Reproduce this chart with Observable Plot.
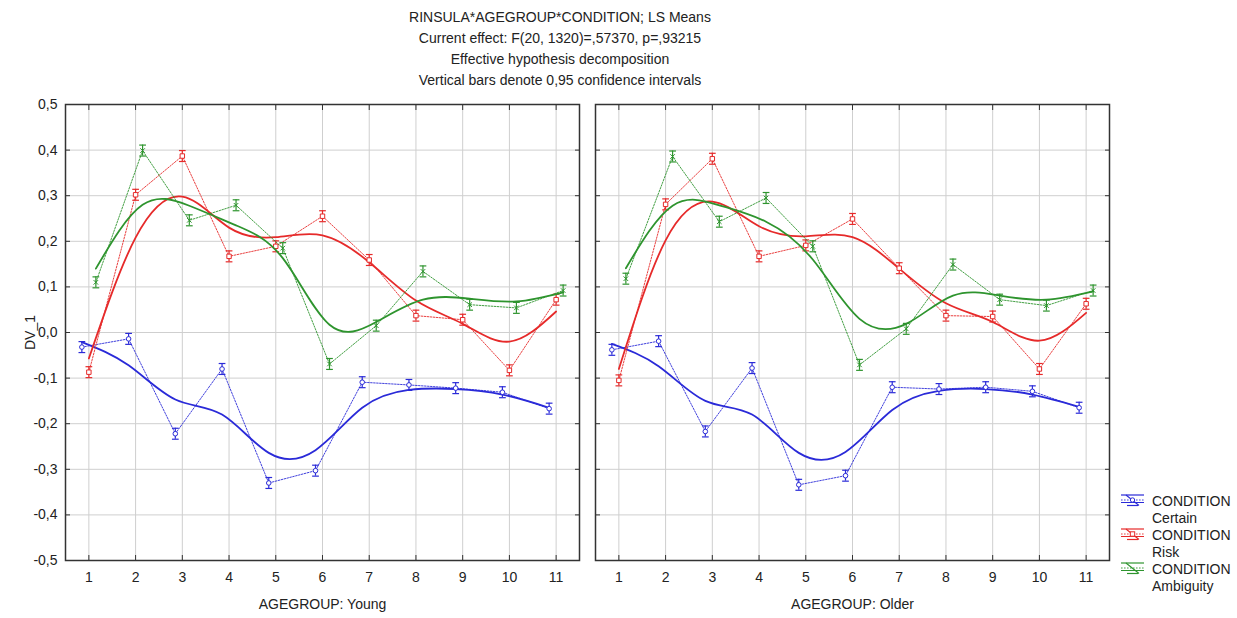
<!DOCTYPE html>
<html><head><meta charset="utf-8">
<script src="https://cdn.jsdelivr.net/npm/d3@7"></script>
<script src="https://cdn.jsdelivr.net/npm/@observablehq/plot@0.6"></script>
<style>
body{margin:0;background:#fff;font-family:"Liberation Sans",Arial,sans-serif;color:#222}
#wrap{position:relative;width:1237px;height:618px;overflow:hidden;background:#fff}
#title{position:absolute;left:0;top:7px;width:1120px;text-align:center;font-size:14px;line-height:21px}
#chart{position:absolute;left:0;top:95px}
#legend{position:absolute;left:1120px;top:493px;font-size:14px;line-height:17.1px;white-space:nowrap}
.entry{position:relative;padding-left:32px}
.entry svg{position:absolute;left:1px;top:0px}
</style></head>
<body>
<div id="wrap">
  <div id="title"></div>
  <div id="chart"></div>
  <div id="legend"></div>
</div>
<script>
// ---------- data ----------
const ageGroups = [1, 2, 3, 4, 5, 6, 7, 8, 9, 10, 11];
const panels = ["Young", "Older"];
const conditions = ["Certain", "Risk", "Ambiguity"];
const conditionColors = ["#2a2ad8", "#e62a2a", "#2e942e"];
const yTicks = [-0.5, -0.4, -0.3, -0.2, -0.1, 0, 0.1, 0.2, 0.3, 0.4, 0.5];
const yGridTicks = [-0.4, -0.3, -0.2, -0.1, 0, 0.1, 0.2, 0.3, 0.4];
const titleLines = [
  "RINSULA*AGEGROUP*CONDITION; LS Means",
  "Current effect: F(20, 1320)=,57370, p=,93215",
  "Effective hypothesis decomposition",
  "Vertical bars denote 0,95 confidence intervals"
];
const xLabelPrefix = "AGEGROUP: ";
const yLabel = "DV_1";
const legendHeader = "CONDITION";

// LS means
const youngCertain   = [-0.032, -0.014, -0.222, -0.080, -0.330, -0.303, -0.109, -0.115, -0.122, -0.131, -0.167];
const youngRisk      = [-0.087,  0.302,  0.387,  0.167,  0.189,  0.255,  0.159,  0.037,  0.028, -0.083,  0.072];
const youngAmbiguity = [ 0.110,  0.399,  0.246,  0.279,  0.185, -0.069,  0.015,  0.134,  0.061,  0.054,  0.092];
const olderCertain   = [-0.038, -0.019, -0.217, -0.078, -0.334, -0.314, -0.120, -0.124, -0.120, -0.129, -0.165];
const olderRisk      = [-0.105,  0.281,  0.381,  0.167,  0.191,  0.249,  0.141,  0.037,  0.035, -0.080,  0.063];
const olderAmbiguity = [ 0.118,  0.386,  0.243,  0.295,  0.189, -0.071,  0.008,  0.149,  0.072,  0.059,  0.092];

// smoothed (spline) fit values read at each age group
const youngCertainFit   = [-0.021, -0.072, -0.147, -0.180, -0.264, -0.258, -0.165, -0.126, -0.124, -0.136, -0.165];
const youngRiskFit      = [-0.057,  0.208,  0.298,  0.230,  0.209,  0.213,  0.154,  0.070,  0.019, -0.020,  0.046];
const youngAmbiguityFit = [ 0.140,  0.280,  0.278,  0.235,  0.163,  0.017,  0.023,  0.072,  0.074,  0.068,  0.088];
const olderCertainFit   = [-0.025, -0.074, -0.150, -0.180, -0.264, -0.262, -0.170, -0.128, -0.124, -0.136, -0.163];
const olderRiskFit      = [-0.080,  0.202,  0.287,  0.233,  0.211,  0.209,  0.140,  0.064,  0.023, -0.018,  0.043];
const olderAmbiguityFit = [ 0.141,  0.278,  0.279,  0.243,  0.160,  0.030,  0.019,  0.081,  0.081,  0.072,  0.090];

// half-width of the 0.95 confidence interval
const ciHalfWidth = 0.012;

// ---------- build table ----------
const seriesMap = {
  Young: {Certain: [youngCertain, youngCertainFit], Risk: [youngRisk, youngRiskFit], Ambiguity: [youngAmbiguity, youngAmbiguityFit]},
  Older: {Certain: [olderCertain, olderCertainFit], Risk: [olderRisk, olderRiskFit], Ambiguity: [olderAmbiguity, olderAmbiguityFit]}
};
const rows = [];
for (const panel of panels) for (const condition of conditions) {
  const [m, f] = seriesMap[panel][condition];
  ageGroups.forEach((age, i) => rows.push({panel, condition, age, mean: m[i], fit: f[i], lo: m[i] - ciHalfWidth, hi: m[i] + ciHalfWidth}));
}

// ---------- styles ----------
const condStyle = {
  Certain:   {dx: -7, symbol: "circle", r: 2.3},
  Risk:      {dx: 0,  symbol: "square", r: 2.5},
  Ambiguity: {dx: 7,  symbol: "times",  r: 2.2}
};
const capSymbol = {draw(ctx, size) { const w = Math.sqrt(size); ctx.moveTo(-w, 0); ctx.lineTo(w, 0); }};
const fmt = d => d.toFixed(1).replace(".", ",");

const seriesMarks = conditions.flatMap((c, k) => {
  const d = rows.filter(r => r.condition === c);
  const color = conditionColors[k];
  const s = condStyle[c];
  return [
    Plot.line(d, {x: "age", y: "fit", fx: "panel", stroke: color, strokeWidth: 1.8, curve: "natural", dx: s.dx}),
    Plot.line(d, {x: "age", y: "mean", fx: "panel", stroke: color, strokeWidth: 0.9, strokeDasharray: "1.6,1.4", dx: s.dx}),
    Plot.ruleX(d, {x: "age", y1: "lo", y2: "hi", fx: "panel", stroke: color, strokeWidth: 1.2, dx: s.dx}),
    Plot.dot(d, {x: "age", y: "lo", fx: "panel", symbol: capSymbol, r: 1.9, fill: "none", stroke: color, strokeWidth: 1.2, dx: s.dx}),
    Plot.dot(d, {x: "age", y: "hi", fx: "panel", symbol: capSymbol, r: 1.9, fill: "none", stroke: color, strokeWidth: 1.2, dx: s.dx}),
    Plot.dot(d, {x: "age", y: "mean", fx: "panel", symbol: s.symbol, r: s.r, fill: c === "Ambiguity" ? "none" : "white", stroke: color, strokeWidth: 1, dx: s.dx})
  ];
});

const chart = Plot.plot({
  width: 1237,
  height: 523,
  marginLeft: 65,
  marginRight: 128,
  marginTop: 9,
  marginBottom: 58,
  style: {fontFamily: '"Liberation Sans", Arial, sans-serif', fontSize: "14px", color: "#222", background: "white", overflow: "visible"},
  x: {domain: [0.5, 11.5], axis: null},
  y: {domain: [-0.5, 0.5], axis: null},
  fx: {domain: panels, paddingInner: 0.0302, paddingOuter: 0, round: false, axis: null},
  marks: [
    Plot.gridX(ageGroups, {stroke: "#cfcfcf", strokeOpacity: 1, strokeWidth: 1}),
    Plot.gridY(yGridTicks, {stroke: "#cfcfcf", strokeOpacity: 1, strokeWidth: 1}),
    ...seriesMarks,
    Plot.axisY(yTicks, {anchor: "left", tickSize: -5, fill: "none", stroke: "#333", facetAnchor: null}),
    Plot.axisY(yTicks, {anchor: "right", tickSize: -5, fill: "none", stroke: "#333", facetAnchor: null}),
    Plot.axisX(ageGroups, {anchor: "top", tickSize: -5, fill: "none", stroke: "#333", facetAnchor: null}),
    Plot.axisX(ageGroups, {anchor: "bottom", tickSize: -5, fill: "none", stroke: "#333", facetAnchor: null}),
    Plot.axisY(yTicks, {anchor: "left", tickSize: 0, tickPadding: 8, tickFormat: fmt, label: yLabel, labelAnchor: "center", labelOffset: 40, labelArrow: "none"}),
    Plot.axisX(ageGroups, {anchor: "bottom", tickSize: 0, tickPadding: 12, label: null, facetAnchor: null}),
    Plot.axisFx({anchor: "bottom", tickSize: 0, tickPadding: 39, tickFormat: d => xLabelPrefix + d, label: null}),
    Plot.frame({stroke: "#333", strokeWidth: 1.5})
  ]
});
document.getElementById("chart").appendChild(chart);

// ---------- title ----------
document.getElementById("title").innerHTML = titleLines.map(t => `<div>${t}</div>`).join("");

// ---------- legend ----------
const legend = document.getElementById("legend");
conditions.forEach((c, k) => {
  const color = conditionColors[k];
  const s = condStyle[c];
  let marker = "";
  if (s.symbol === "circle") marker = `<circle cx="11.5" cy="7" r="2.2" fill="white" stroke="${color}" stroke-width="1"/>`;
  else if (s.symbol === "square") marker = `<rect x="9.3" y="4.8" width="4.4" height="4.4" fill="white" stroke="${color}" stroke-width="1"/>`;
  const sym = `<svg width="24" height="15" viewBox="0 0 24 15">
    <line x1="0" y1="7" x2="23" y2="7" stroke="${color}" stroke-width="0.9" stroke-dasharray="1.6,1.4"/>
    <line x1="0" y1="9.5" x2="23" y2="9.5" stroke="${color}" stroke-width="1"/>
    <line x1="0" y1="2" x2="23" y2="2" stroke="${color}" stroke-width="1.2"/>
    <line x1="6" y1="12.5" x2="17" y2="12.5" stroke="${color}" stroke-width="1.2"/>
    <line x1="5" y1="2" x2="18" y2="12.5" stroke="${color}" stroke-width="1.1"/>
    ${marker}</svg>`;
  const div = document.createElement("div");
  div.className = "entry";
  div.innerHTML = `${sym}<div>${legendHeader}</div><div>${c}</div>`;
  legend.appendChild(div);
});
</script>
</body></html>
